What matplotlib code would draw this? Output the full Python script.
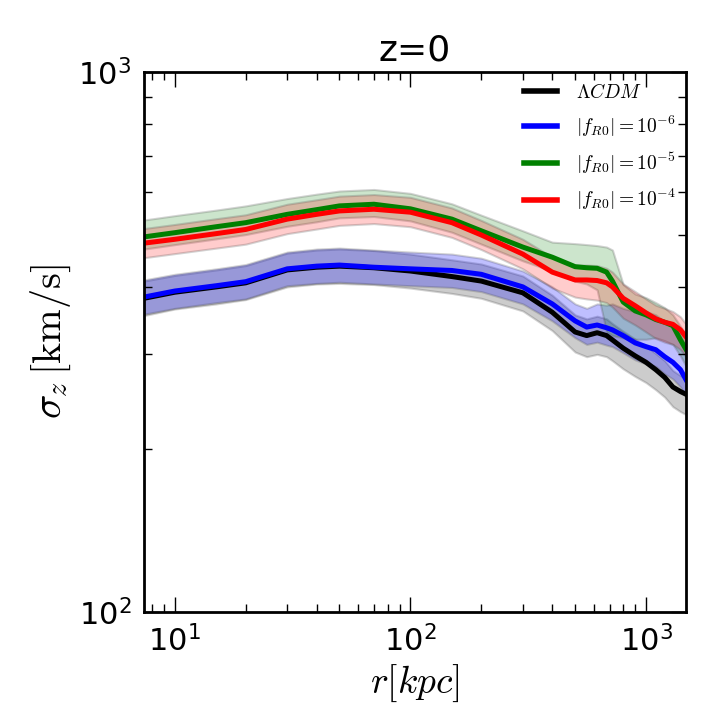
import matplotlib
matplotlib.use("Agg")
import matplotlib.pyplot as plt
import numpy as np

plt.rcParams['mathtext.fontset'] = 'cm'
plt.rcParams['font.family'] = ['DejaVu Sans']

# radius [kpc]
r = [7.4, 10, 15, 20, 30, 40, 50, 70, 100, 150, 200, 300, 400, 500, 560, 620,
     680, 720, 800, 900, 1000, 1100, 1200, 1300, 1400, 1480]

# sigma_z [km/s]
lcdm = [381, 391, 400, 407, 430, 435, 437, 434, 428, 418, 410, 390, 359, 330, 325, 329,
        325, 319, 308, 298, 290, 281, 272, 261, 256, 253]
lcdm_hi = [410, 420, 430, 438, 462, 468, 470, 467, 460, 449, 441, 419, 386, 355, 349, 353,
           349, 342, 331, 320, 311, 301, 292, 280, 274, 271]
lcdm_lo = [354, 364, 372, 379, 400, 405, 406, 404, 398, 389, 381, 361, 332, 303, 297, 300,
           297, 292, 282, 273, 266, 258, 250, 240, 235, 232]

f6 = [383, 393, 402, 409, 432, 437, 439, 435, 432, 429, 422, 400, 372, 346, 337, 340,
      336, 333, 325, 315, 310, 306, 297, 290, 281, 269]
f6_hi = [412, 422, 432, 440, 464, 470, 472, 468, 464, 460, 452, 428, 400, 372, 365, 372,
         370, 372, 365, 360, 360, 355, 345, 337, 327, 312]
f6_lo = [356, 365, 374, 380, 402, 406, 408, 405, 402, 399, 392, 372, 346, 322, 313, 316,
         312, 310, 302, 293, 288, 285, 276, 270, 261, 250]

f5 = [495, 504, 517, 526, 545, 556, 565, 569, 558, 534, 508, 474, 454, 436, 434, 433,
      426, 410, 375, 361, 355, 348, 344, 339, 319, 306]
f5_hi = [532, 542, 555, 565, 583, 594, 602, 606, 596, 570, 543, 508, 484, 481, 479, 477,
         474, 468, 404, 388, 382, 374, 366, 355, 338, 326]
f5_lo = [470, 479, 491, 500, 518, 528, 537, 540, 530, 505, 480, 447, 428, 410, 405, 395,
         330, 325, 322, 320, 320, 322, 318, 313, 298, 285]

f4 = [482, 490, 502, 511, 534, 545, 553, 557, 550, 526, 499, 460, 426, 412, 412, 411,
      407, 400, 381, 369, 358, 349, 344, 341, 333, 323]
f4_hi = [513, 522, 535, 544, 569, 580, 589, 593, 586, 560, 531, 490, 454, 439, 439, 438,
         433, 426, 405, 392, 380, 370, 365, 360, 352, 341]
f4_lo = [453, 461, 472, 480, 502, 512, 520, 524, 517, 494, 469, 432, 398, 383, 380, 378,
         374, 367, 350, 340, 330, 321, 316, 313, 306, 297]

labels = [r'$\Lambda CDM$', r'$|f_{R0}|=10^{-6}$', r'$|f_{R0}|=10^{-5}$', r'$|f_{R0}|=10^{-4}$']
colors = ['black', 'blue', 'green', 'red']
band_alpha = [0.2, 0.25, 0.2, 0.2]

fig = plt.figure(figsize=(7.2, 7.2), dpi=100)
ax = fig.add_axes([0.2, 0.15, 0.753, 0.75])

series = [(lcdm, lcdm_lo, lcdm_hi), (f6, f6_lo, f6_hi), (f5, f5_lo, f5_hi), (f4, f4_lo, f4_hi)]
for (y, lo, hi), c, a in zip(series, colors, band_alpha):
    rgb = matplotlib.colors.to_rgb(c)
    ax.fill_between(r, lo, hi, facecolor=rgb + (a,), edgecolor=(0.3, 0.3, 0.3, 0.25), linewidth=1.5)
for (y, lo, hi), c, lab in zip(series, colors, labels):
    ax.plot(r, y, color=c, lw=3.6, label=lab)

ax.set_xscale('log')
ax.set_yscale('log')
ax.set_xlim(7.4, 1480)
ax.set_ylim(100, 1000)

for s in ax.spines.values():
    s.set_linewidth(2)
ax.tick_params(which='both', direction='in', top=True, right=True, labelsize=22, width=1)
ax.tick_params(which='major', length=11, pad=9)
ax.tick_params(which='minor', length=6)
ax.yaxis.set_minor_formatter(matplotlib.ticker.NullFormatter())
ax.xaxis.set_minor_formatter(matplotlib.ticker.NullFormatter())

ax.set_title('z=0', fontsize=26, pad=8)
ax.set_xlabel(r'$r[kpc]$', fontsize=27, labelpad=4)
ax.set_ylabel(r'$\sigma_z\,[\mathrm{km/s}]$', fontsize=29, labelpad=4)

leg = ax.legend(loc='upper right', frameon=False, fontsize=14, handlelength=1.7,
                labelspacing=0.6, handletextpad=0.95, borderaxespad=0.15)
for h in leg.get_lines():
    h.set_linewidth(4)

fig.savefig('out.png', dpi=100)
